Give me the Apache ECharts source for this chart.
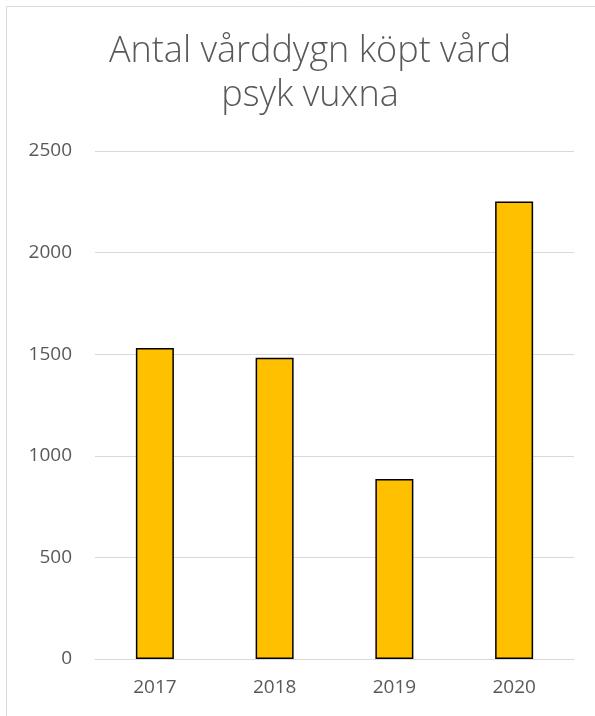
<!DOCTYPE html>
<html>
<head>
<meta charset="utf-8">
<script src="https://cdn.jsdelivr.net/npm/echarts@6/dist/echarts.min.js"></script>
<style>
  html, body { margin: 0; padding: 0; background: #fff; }
  #main { width: 595px; height: 716px; }
</style>
</head>
<body>
<div id="main"></div>
<script>
// data
var years = ['2017', '2018', '2019', '2020']
var vardagar = [1530, 1482, 886, 2252]
var yTicks = [0, 500, 1000, 1500, 2000, 2500]

var chartDom = document.getElementById('main')
var myChart = echarts.init(chartDom)
var textColor = '#595959'
var option = {
  animation: false,
  title: {
    text: 'Antal vårddygn köpt vård\npsyk vuxna',
    left: 305,
    top: 25,
    textAlign: 'center',
    textStyle: {
      fontFamily: 'Open Sans',
      fontWeight: 300,
      fontSize: 36,
      lineHeight: 44,
      color: textColor
    }
  },
  graphic: [
    {
      type: 'rect',
      shape: { x: 6.5, y: 6.5, width: 640, height: 760 },
      style: { fill: 'none', stroke: '#d9d9d9', lineWidth: 1 },
      silent: true
    }
  ],
  grid: {
    left: 95,
    right: 21,
    top: 151,
    bottom: 57
  },
  xAxis: {
    type: 'category',
    data: years,
    axisLine: { lineStyle: { color: '#d9d9d9', width: 1 } },
    axisTick: { show: false },
    axisLabel: {
      color: textColor,
      fontFamily: 'Open Sans',
      fontSize: 19,
      margin: 19
    }
  },
  yAxis: {
    type: 'value',
    min: yTicks[0],
    max: yTicks[yTicks.length - 1],
    interval: 500,
    axisLine: { show: false },
    axisTick: { show: false },
    splitLine: { lineStyle: { color: '#d9d9d9', width: 1 } },
    axisLabel: {
      color: textColor,
      fontFamily: 'Open Sans',
      fontSize: 19,
      margin: 23,
      formatter: function (v) { return String(v) }
    }
  },
  series: [
    {
      name: 'Antal vårddygn',
      type: 'bar',
      data: vardagar,
      barWidth: 38,
      itemStyle: {
        color: '#FFC000',
        borderColor: '#000',
        borderWidth: 1.5
      }
    }
  ]
}
option && myChart.setOption(option)
</script>
</body>
</html>
